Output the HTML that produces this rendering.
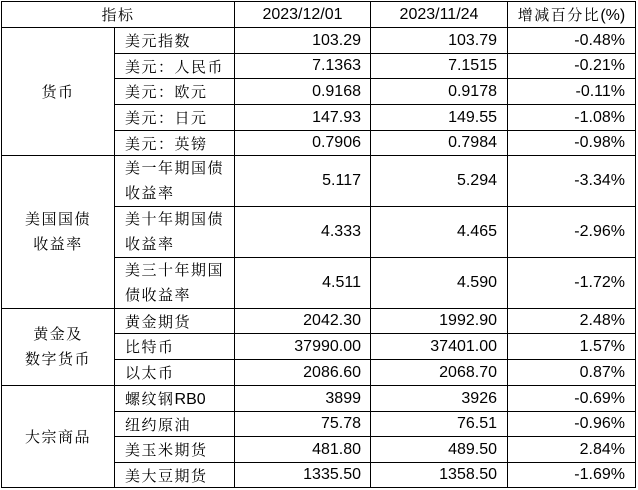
<!DOCTYPE html>
<html>
<head>
<meta charset="utf-8">
<style>
  html, body { margin:0; padding:0; background:#fff; }
  body { width:638px; height:490px; position:relative; overflow:hidden; }
  .c { position:absolute; display:flex; align-items:center; box-sizing:border-box;
       font-family:"Liberation Sans","Noto Serif CJK SC",serif; font-size:16px; color:#000; white-space:nowrap; }
  .cn { font-family:"Liberation Sans","Noto Serif CJK SC","Noto Sans CJK SC",serif; font-size:15px; letter-spacing:1.5px; }
  .ctr { justify-content:center; text-align:center; }
  .l { justify-content:flex-start; padding-left:10px; }
  .r { justify-content:flex-end; }
  .r9 { padding-right:9px; }
  .r10 { padding-right:10px; }
  .ml { line-height:25px; }
  svg { position:absolute; left:0; top:0; }
</style>
</head>
<body>
<svg width="638" height="490" shape-rendering="crispEdges">
  <g stroke="#000" stroke-width="1">
    <line x1="1" y1="1.5" x2="636" y2="1.5"/>
    <line x1="1" y1="487.5" x2="636" y2="487.5"/>
    <line x1="1.5" y1="1" x2="1.5" y2="488"/>
    <line x1="635.5" y1="1" x2="635.5" y2="488"/>
    <line x1="114.5" y1="27" x2="114.5" y2="488"/>
    <line x1="234.5" y1="1" x2="234.5" y2="488"/>
    <line x1="370.5" y1="1" x2="370.5" y2="488"/>
    <line x1="507.5" y1="1" x2="507.5" y2="488"/>
    <line x1="1" y1="27.5" x2="636" y2="27.5"/>
    <line x1="1" y1="155.5" x2="636" y2="155.5"/>
    <line x1="1" y1="308.5" x2="636" y2="308.5"/>
    <line x1="1" y1="385.5" x2="636" y2="385.5"/>
    <line x1="114" y1="53.5" x2="636" y2="53.5"/>
    <line x1="114" y1="78.5" x2="636" y2="78.5"/>
    <line x1="114" y1="104.5" x2="636" y2="104.5"/>
    <line x1="114" y1="130.5" x2="636" y2="130.5"/>
    <line x1="114" y1="206.5" x2="636" y2="206.5"/>
    <line x1="114" y1="257.5" x2="636" y2="257.5"/>
    <line x1="114" y1="333.5" x2="636" y2="333.5"/>
    <line x1="114" y1="359.5" x2="636" y2="359.5"/>
    <line x1="114" y1="411.5" x2="636" y2="411.5"/>
    <line x1="114" y1="436.5" x2="636" y2="436.5"/>
    <line x1="114" y1="462.5" x2="636" y2="462.5"/>
  </g>
</svg>

<!-- header -->
<div class="c ctr cn" style="left:2px;top:2px;width:232px;height:25px;">指标</div>
<div class="c ctr" style="left:235px;top:2px;width:135px;height:25px;">2023/12/01</div>
<div class="c ctr" style="left:371px;top:2px;width:136px;height:25px;">2023/11/24</div>
<div class="c ctr" style="left:508px;top:2px;width:127px;height:25px;"><span><span style="font-size:15px;letter-spacing:1.5px;">增减百分比</span>(%)</span></div>

<!-- group labels -->
<div class="c ctr cn" style="left:2px;top:28px;width:112px;height:127px;">货币</div>
<div class="c ctr cn ml" style="left:2px;top:156px;width:112px;height:152px;">美国国债<br>收益率</div>
<div class="c ctr cn ml" style="left:2px;top:309px;width:112px;height:76px;">黄金及<br>数字货币</div>
<div class="c ctr cn" style="left:2px;top:386px;width:112px;height:101px;">大宗商品</div>

<!-- 货币 -->
<div class="c l cn" style="left:115px;top:28px;width:119px;height:25px;">美元指数</div>
<div class="c r r9" style="left:235px;top:28px;width:135px;height:25px;">103.29</div>
<div class="c r r10" style="left:371px;top:28px;width:136px;height:25px;">103.79</div>
<div class="c r r10" style="left:508px;top:28px;width:127px;height:25px;">-0.48%</div>

<div class="c l cn" style="left:115px;top:54px;width:119px;height:24px;">美元：人民币</div>
<div class="c r r9" style="left:235px;top:54px;width:135px;height:24px;">7.1363</div>
<div class="c r r10" style="left:371px;top:54px;width:136px;height:24px;">7.1515</div>
<div class="c r r10" style="left:508px;top:54px;width:127px;height:24px;">-0.21%</div>

<div class="c l cn" style="left:115px;top:79px;width:119px;height:25px;">美元：欧元</div>
<div class="c r r9" style="left:235px;top:79px;width:135px;height:25px;">0.9168</div>
<div class="c r r10" style="left:371px;top:79px;width:136px;height:25px;">0.9178</div>
<div class="c r r10" style="left:508px;top:79px;width:127px;height:25px;">-0.11%</div>

<div class="c l cn" style="left:115px;top:105px;width:119px;height:25px;">美元：日元</div>
<div class="c r r9" style="left:235px;top:105px;width:135px;height:25px;">147.93</div>
<div class="c r r10" style="left:371px;top:105px;width:136px;height:25px;">149.55</div>
<div class="c r r10" style="left:508px;top:105px;width:127px;height:25px;">-1.08%</div>

<div class="c l cn" style="left:115px;top:131px;width:119px;height:24px;">美元：英镑</div>
<div class="c r r9" style="left:235px;top:131px;width:135px;height:24px;">0.7906</div>
<div class="c r r10" style="left:371px;top:131px;width:136px;height:24px;">0.7984</div>
<div class="c r r10" style="left:508px;top:131px;width:127px;height:24px;">-0.98%</div>

<!-- 美国国债收益率 -->
<div class="c l cn ml" style="left:115px;top:156px;width:119px;height:50px;">美一年期国债<br>收益率</div>
<div class="c r r9" style="left:235px;top:156px;width:135px;height:50px;">5.117</div>
<div class="c r r10" style="left:371px;top:156px;width:136px;height:50px;">5.294</div>
<div class="c r r10" style="left:508px;top:156px;width:127px;height:50px;">-3.34%</div>

<div class="c l cn ml" style="left:115px;top:207px;width:119px;height:50px;">美十年期国债<br>收益率</div>
<div class="c r r9" style="left:235px;top:207px;width:135px;height:50px;">4.333</div>
<div class="c r r10" style="left:371px;top:207px;width:136px;height:50px;">4.465</div>
<div class="c r r10" style="left:508px;top:207px;width:127px;height:50px;">-2.96%</div>

<div class="c l cn ml" style="left:115px;top:258px;width:119px;height:50px;">美三十年期国<br>债收益率</div>
<div class="c r r9" style="left:235px;top:258px;width:135px;height:50px;">4.511</div>
<div class="c r r10" style="left:371px;top:258px;width:136px;height:50px;">4.590</div>
<div class="c r r10" style="left:508px;top:258px;width:127px;height:50px;">-1.72%</div>

<!-- 黄金及数字货币 -->
<div class="c l cn" style="left:115px;top:309px;width:119px;height:24px;">黄金期货</div>
<div class="c r r9" style="left:235px;top:309px;width:135px;height:24px;">2042.30</div>
<div class="c r r10" style="left:371px;top:309px;width:136px;height:24px;">1992.90</div>
<div class="c r r10" style="left:508px;top:309px;width:127px;height:24px;">2.48%</div>

<div class="c l cn" style="left:115px;top:334px;width:119px;height:25px;">比特币</div>
<div class="c r r9" style="left:235px;top:334px;width:135px;height:25px;">37990.00</div>
<div class="c r r10" style="left:371px;top:334px;width:136px;height:25px;">37401.00</div>
<div class="c r r10" style="left:508px;top:334px;width:127px;height:25px;">1.57%</div>

<div class="c l cn" style="left:115px;top:360px;width:119px;height:25px;">以太币</div>
<div class="c r r9" style="left:235px;top:360px;width:135px;height:25px;">2086.60</div>
<div class="c r r10" style="left:371px;top:360px;width:136px;height:25px;">2068.70</div>
<div class="c r r10" style="left:508px;top:360px;width:127px;height:25px;">0.87%</div>

<!-- 大宗商品 -->
<div class="c l cn" style="left:115px;top:386px;width:119px;height:25px;"><span>螺纹钢<span style="letter-spacing:0;font-size:16px;">RB0</span></span></div>
<div class="c r r9" style="left:235px;top:386px;width:135px;height:25px;">3899</div>
<div class="c r r10" style="left:371px;top:386px;width:136px;height:25px;">3926</div>
<div class="c r r10" style="left:508px;top:386px;width:127px;height:25px;">-0.69%</div>

<div class="c l cn" style="left:115px;top:412px;width:119px;height:24px;">纽约原油</div>
<div class="c r r9" style="left:235px;top:412px;width:135px;height:24px;">75.78</div>
<div class="c r r10" style="left:371px;top:412px;width:136px;height:24px;">76.51</div>
<div class="c r r10" style="left:508px;top:412px;width:127px;height:24px;">-0.96%</div>

<div class="c l cn" style="left:115px;top:437px;width:119px;height:25px;">美玉米期货</div>
<div class="c r r9" style="left:235px;top:437px;width:135px;height:25px;">481.80</div>
<div class="c r r10" style="left:371px;top:437px;width:136px;height:25px;">489.50</div>
<div class="c r r10" style="left:508px;top:437px;width:127px;height:25px;">2.84%</div>

<div class="c l cn" style="left:115px;top:463px;width:119px;height:24px;">美大豆期货</div>
<div class="c r r9" style="left:235px;top:463px;width:135px;height:24px;">1335.50</div>
<div class="c r r10" style="left:371px;top:463px;width:136px;height:24px;">1358.50</div>
<div class="c r r10" style="left:508px;top:463px;width:127px;height:24px;">-1.69%</div>

</body>
</html>
